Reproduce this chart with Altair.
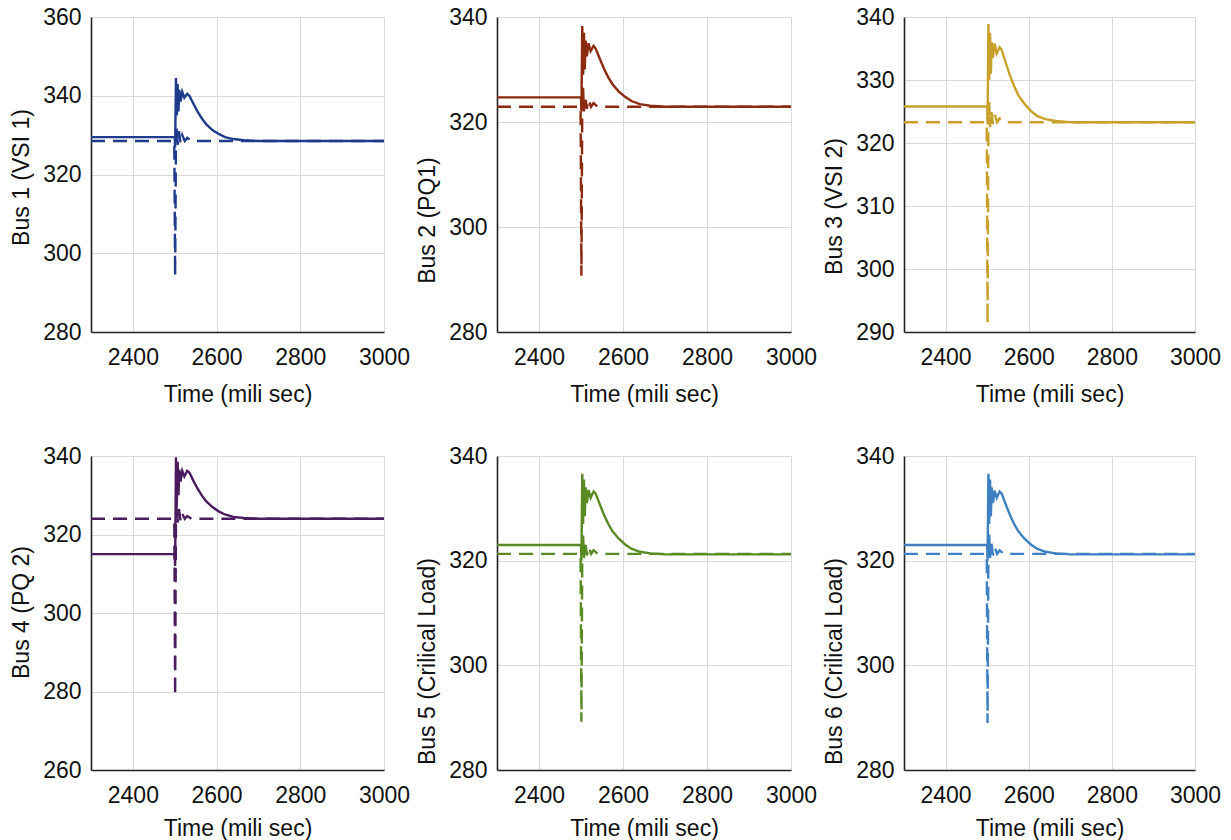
import altair as alt
import pandas as pd

# ---- data ----
T_SOLID = [2300, 2500, 2501, 2503, 2505, 2507, 2509, 2511, 2514, 2518, 2523, 2530, 2535,
           2545, 2555, 2565, 2575, 2590, 2605, 2620, 2640, 2665, 2700, 3000]
T_DASH = [2300, 2499, 2501, 2503, 2505, 2507, 2510, 2514, 2518, 2524, 2530, 2540, 3000]

BUS1_SOLID = [329.5, 329.5, 327, 344.5, 335, 343, 336, 341.5, 338.5, 341, 339.5, 340.5, 340,
              337.9, 335.9, 334.2, 332.8, 331.3, 330.3, 329.5, 329.0, 328.7, 328.5, 328.5]
BUS2_SOLID = [324.7, 324.7, 322, 338.3, 329, 337, 330, 335.5, 332.5, 335, 333.5, 334.5, 334,
              332.0, 330.1, 328.5, 327.2, 325.8, 324.8, 324.0, 323.4, 323.1, 322.9, 322.9]
BUS3_SOLID = [325.8, 325.8, 323, 338.9, 330, 337.5, 331, 336, 333.5, 335.8, 334.2, 335.2, 334.8,
              332.7, 330.7, 329.0, 327.6, 326.2, 325.1, 324.3, 323.8, 323.5, 323.3, 323.3]
BUS4_SOLID = [315, 315, 312, 339.7, 328, 338.5, 330, 336.5, 333.5, 336.2, 334.8, 336.2, 335.8,
              333.6, 331.6, 329.9, 328.5, 327.0, 325.9, 325.1, 324.5, 324.2, 324.0, 324.0]
BUS5_SOLID = [323, 323, 320, 336.6, 327, 335.5, 328.5, 334, 331, 333.5, 332, 333.2, 332.8,
              330.7, 328.7, 327.0, 325.6, 324.2, 323.1, 322.3, 321.7, 321.4, 321.2, 321.2]
BUS6_SOLID = [323, 323, 320, 336.6, 327, 335.5, 328.5, 334, 331, 333.4, 332, 333.2, 332.8,
              330.7, 328.7, 327.0, 325.6, 324.2, 323.1, 322.3, 321.7, 321.4, 321.2, 321.2]

BUS1_DASH = [328.5, 328.5, 294.2, 328.5, 332, 327.5, 331, 328, 330, 328.5, 329.3, 328.5, 328.5]
BUS2_DASH = [322.9, 322.9, 290.7, 322.9, 326.5, 322, 325, 322.5, 324.3, 322.9, 323.6, 322.9, 322.9]
BUS3_DASH = [323.3, 323.3, 291.3, 323.3, 326.5, 322.5, 325.2, 323, 324.5, 323.3, 323.9, 323.3, 323.3]
BUS4_DASH = [324, 324, 278.9, 324, 328, 323, 326.5, 323.5, 325.3, 324, 324.7, 324, 324]
BUS5_DASH = [321.3, 321.3, 289.2, 321.3, 325, 320.5, 323.8, 321, 322.6, 321.3, 322, 321.3, 321.3]
BUS6_DASH = [321.3, 321.3, 289.0, 321.3, 325, 320.5, 323.8, 321, 322.6, 321.3, 322, 321.3, 321.3]

X_TICKS = [2400, 2600, 2800, 3000]
Y_TICKS_1 = [280, 300, 320, 340, 360]
Y_TICKS_2 = [280, 300, 320, 340]
Y_TICKS_3 = [290, 300, 310, 320, 330, 340]
Y_TICKS_4 = [260, 280, 300, 320, 340]
Y_TICKS_5 = [280, 300, 320, 340]
Y_TICKS_6 = [280, 300, 320, 340]

TITLES = ["Bus 1 (VSI 1)", "Bus 2 (PQ1)", "Bus 3 (VSI 2)",
          "Bus 4 (PQ 2)", "Bus 5 (Crilical Load)", "Bus 6 (Crilical Load)"]
COLORS = ["#1f3b8c", "#8a2a0e", "#c9a12a", "#4a1c5e", "#5a8a22", "#3f80c2"]

FONT = "Liberation Sans"


def panel(solid, dashed, color, yticks, ytitle, title_y, w, h, tpad):
    df_s = pd.DataFrame({"t": T_SOLID, "v": solid})
    df_d = pd.DataFrame({"t": T_DASH, "v": dashed})
    x = alt.X("t:Q",
              scale=alt.Scale(domain=[2300, 3000], nice=False, zero=False),
              axis=alt.Axis(values=X_TICKS, title="Time (mili sec)", format="d",
                            labelPadding=14, titlePadding=tpad, labelFlush=False,
                            labelOverlap=False))
    y = alt.Y("v:Q",
              scale=alt.Scale(domain=[yticks[0], yticks[-1]], nice=False, zero=False),
              axis=alt.Axis(values=yticks, title=ytitle, format="d",
                            labelPadding=10, titleX=-70, titleY=title_y,
                            titleBaseline="middle", titleAngle=270,
                            labelFlush=False, labelOverlap=False))
    dash = alt.Chart(df_d).mark_line(color=color, strokeWidth=2.4, strokeDash=[14, 8],
                                     clip=True).encode(x=x, y=y)
    sol = alt.Chart(df_s).mark_line(color=color, strokeWidth=2.4, clip=True).encode(x=x, y=y)
    return alt.layer(dash, sol).properties(width=w, height=h)


p1 = panel(BUS1_SOLID, BUS1_DASH, COLORS[0], Y_TICKS_1, TITLES[0], 160, 293, 315, 14)
p2 = panel(BUS2_SOLID, BUS2_DASH, COLORS[1], Y_TICKS_2, TITLES[1], 203, 294, 315, 14)
p3 = panel(BUS3_SOLID, BUS3_DASH, COLORS[2], Y_TICKS_3, TITLES[2], 189, 291, 315, 14)
p4 = panel(BUS4_SOLID, BUS4_DASH, COLORS[3], Y_TICKS_4, TITLES[3], 156, 293, 314, 10)
p5 = panel(BUS5_SOLID, BUS5_DASH, COLORS[4], Y_TICKS_5, TITLES[4], 205, 294, 314, 10)
p6 = panel(BUS6_SOLID, BUS6_DASH, COLORS[5], Y_TICKS_6, TITLES[5], 205, 291, 314, 10)

chart = alt.concat(p1, p2, p3, p4, p5, p6, columns=3,
                   spacing={"row": 124, "column": 113}, bounds="flush").properties(
    padding={"left": 10, "top": 6, "right": 5, "bottom": 5},
    background="white",
).configure_view(strokeWidth=0).configure_axis(
    labelFont=FONT, titleFont=FONT, labelFontSize=23, titleFontSize=23,
    labelColor="#111111", titleColor="#111111", titleFontWeight="normal",
    domainColor="#222222", domainWidth=1.6, gridColor="#d9d9d9", gridWidth=1,
    ticks=False,
)

chart.save("out.html", embed_options={"renderer": "svg", "actions": False})
